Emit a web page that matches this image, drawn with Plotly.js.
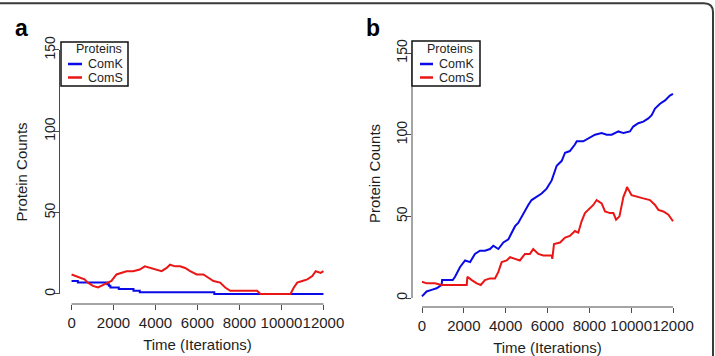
<!DOCTYPE html>
<html>
<head>
<meta charset="utf-8">
<script src="https://cdn.plot.ly/plotly-3.0.1.min.js"></script>
<style>
  html, body { margin: 0; padding: 0; background: #ffffff; }
  #chart { width: 715px; height: 356px; }
</style>
</head>
<body>
<div id="chart"></div>
<script>
// Series names and tick labels
const seriesNames = ['ComK', 'ComS'];
const legendTitle = 'Proteins';
const panelLabels = ['a', 'b'];
const xTicks = [0, 2000, 4000, 6000, 8000, 10000, 12000];
const yTicks = [0, 50, 100, 150];

// Panel a: ComK protein count (step changes) and ComS protein count
const timeA_comK = [0, 300, 1700, 1780, 1850, 2250, 2950, 3250, 6800, 12000];
const comK_A     = [8, 7, 6, 5, 4, 3, 2, 1, 0, 0];
const timeA_comS = [0, 220, 420, 620, 780, 1020, 1260, 1420, 1660, 1900, 2140, 2380, 2620, 2930, 3250, 3490, 3730, 4050, 4290, 4530, 4690, 4930, 5170, 5410, 5650, 5960, 6280, 6520, 6760, 7080, 7320, 7560, 8840, 9000, 10430, 10590, 10750, 10990, 11230, 11470, 11630, 11870, 12000];
const comS_A     = [12, 11, 10, 9, 7, 5, 4, 5, 7, 8, 12, 13, 14, 14, 15, 17, 16, 15, 14, 16, 18, 17, 17, 16, 14, 12, 12, 10, 8, 7, 4, 2, 2, 0, 0, 4, 7, 8, 9, 11, 14, 13, 14];

// Panel b
const timeB_comK = [0, 220, 460, 700, 940, 960, 1470, 1580, 1820, 2060, 2300, 2530, 2770, 3010, 3250, 3410, 3650, 3890, 4130, 4290, 4450, 4600, 4770, 4920, 5080, 5240, 5480, 5720, 5960, 6200, 6440, 6680, 6840, 7070, 7310, 7400, 7710, 8030, 8270, 8590, 8830, 9070, 9390, 9630, 9940, 10100, 10340, 10580, 10820, 10980, 11140, 11380, 11620, 11850, 12000];
const comK_B     = [1, 4, 5, 6, 8, 11, 11, 13, 19, 23, 22, 27, 29, 29, 30, 32, 30, 34, 36, 40, 44, 46, 50, 54, 57, 60, 62, 64, 67, 72, 81, 84, 89, 90, 94, 96, 96, 98, 100, 101, 100, 100, 102, 101, 102, 105, 107, 108, 110, 112, 116, 119, 121, 124, 125];
const timeB_comS = [0, 220, 620, 940, 2140, 2170, 2380, 2620, 2810, 3010, 3250, 3490, 3650, 3810, 4050, 4210, 4450, 4680, 4920, 5160, 5320, 5560, 5800, 6200, 6230, 6310, 6600, 6840, 7070, 7310, 7470, 7630, 7790, 8030, 8190, 8350, 8590, 8750, 8990, 9150, 9280, 9440, 9630, 9760, 9800, 10020, 10260, 10580, 10900, 11140, 11300, 11540, 11780, 12000];
const comS_B     = [10, 9, 9, 8, 8, 13, 11, 9, 8, 11, 12, 12, 16, 22, 23, 25, 24, 23, 27, 27, 30, 27, 26, 26, 24, 33, 34, 37, 38, 41, 40, 47, 52, 55, 57, 60, 58, 53, 52, 52, 48, 50, 62, 66, 68, 63, 62, 61, 60, 57, 54, 53, 51, 47];

const W = 715, H = 356;
const FONT = '"Liberation Sans", Arial, Helvetica, sans-serif';
const BLUE = '#0a0ae6';
const RED = '#ea1515';
const AXIS = '#4a4a4a';
const TEXT = '#1e1e1e';
const colors = [BLUE, RED];

// pixel -> paper helpers
const fx = px => px / W;
const fy = py => 1 - py / H;

const traces = [
  { x: timeA_comK, y: comK_A, xaxis: 'x', yaxis: 'y', name: seriesNames[0],
    mode: 'lines', line: { color: BLUE, width: 2, shape: 'hv' } },
  { x: timeA_comS, y: comS_A, xaxis: 'x', yaxis: 'y', name: seriesNames[1],
    mode: 'lines', line: { color: RED, width: 2 } },
  { x: timeB_comK, y: comK_B, xaxis: 'x2', yaxis: 'y2', name: seriesNames[0],
    mode: 'lines', line: { color: BLUE, width: 2 } },
  { x: timeB_comS, y: comS_B, xaxis: 'x2', yaxis: 'y2', name: seriesNames[1],
    mode: 'lines', line: { color: RED, width: 2 } }
];

function xAxis(domain, range, anchor) {
  return {
    domain: domain, range: range, anchor: anchor,
    showgrid: false, zeroline: false, showline: false,
    tickmode: 'array', tickvals: xTicks, ticktext: xTicks.map(String),
    tickangle: 0,
    ticks: 'outside', ticklen: 5, tickwidth: 1, tickcolor: AXIS,
    ticklabelstandoff: 1.5,
    tickfont: { family: FONT, size: 15, color: TEXT },
    title: { text: 'Time (Iterations)', font: { family: FONT, size: 15, color: TEXT }, standoff: 9 }
  };
}
function yAxis(domain, range, anchor) {
  return {
    domain: domain, range: range, anchor: anchor,
    showgrid: false, zeroline: false, showline: false,
    tickmode: 'array', tickvals: yTicks, ticktext: yTicks.map(String),
    tickangle: -90,
    ticks: 'outside', ticklen: 5, tickwidth: 1, tickcolor: AXIS,
    ticklabelstandoff: -7,
    tickfont: { family: FONT, size: 14, color: TEXT },
    title: { text: 'Protein Counts', font: { family: FONT, size: 15, color: TEXT }, standoff: 10 }
  };
}

const layout = {
  width: W, height: H,
  margin: { l: 0, r: 0, t: 0, b: 0 },
  paper_bgcolor: '#ffffff', plot_bgcolor: 'rgba(0,0,0,0)',
  showlegend: false,
  xaxis:  xAxis([fx(59.5), fx(335.5)], [-574, 12574], 'y'),
  yaxis:  yAxis([fy(304), fy(40)], [-6.15, 156.1], 'x'),
  xaxis2: xAxis([fx(412), fx(683)], [-478, 12478], 'y2'),
  yaxis2: yAxis([fy(307), fy(40)], [-5.5, 158], 'x2'),
  shapes: [], annotations: []
};

// R-style axis lines spanning first to last tick
[['x', 'y'], ['x2', 'y2']].forEach(([xa, ya]) => {
  layout.shapes.push({ type: 'line', xref: xa, yref: ya + ' domain', x0: xTicks[0], x1: xTicks[xTicks.length - 1], y0: 0, y1: 0,
    line: { color: AXIS, width: 1 } });
  layout.shapes.push({ type: 'line', xref: xa + ' domain', yref: ya, x0: 0, x1: 0, y0: yTicks[0], y1: yTicks[yTicks.length - 1],
    line: { color: AXIS, width: 1 } });
});

// Legend boxes (one per panel), drawn in pixel positions
const legends = [
  { box: [61, 42, 128, 86], sample: [68, 82], text: 87, title: 99 },
  { box: [412, 41, 480, 86], sample: [420, 433], text: 438, title: 450 }
];
const rowY = [64, 77.5];
legends.forEach(lg => {
  const [x0, y0, x1, y1] = lg.box;
  layout.shapes.push({ type: 'rect', xref: 'paper', yref: 'paper', x0: fx(x0), x1: fx(x1), y0: fy(y1), y1: fy(y0),
    line: { color: '#111111', width: 1.5 }, fillcolor: '#ffffff', layer: 'above' });
  layout.annotations.push({ xref: 'paper', yref: 'paper', x: fx(lg.title), y: fy(48.5), text: legendTitle,
    showarrow: false, xanchor: 'center', yanchor: 'middle', borderpad: 0, font: { family: FONT, size: 12.5, color: TEXT } });
  seriesNames.forEach((nm, i) => {
    layout.shapes.push({ type: 'line', xref: 'paper', yref: 'paper', x0: fx(lg.sample[0]), x1: fx(lg.sample[1]),
      y0: fy(rowY[i]), y1: fy(rowY[i]), line: { color: colors[i], width: 2.5 }, layer: 'above' });
    layout.annotations.push({ xref: 'paper', yref: 'paper', x: fx(lg.text), y: fy(rowY[i]), text: nm,
      showarrow: false, xanchor: 'left', yanchor: 'middle', borderpad: 0, font: { family: FONT, size: 12.5, color: TEXT } });
  });
});

// Panel letters
layout.annotations.push({ xref: 'paper', yref: 'paper', x: fx(21.5), y: fy(28), text: '<b>' + panelLabels[0] + '</b>',
  showarrow: false, xanchor: 'center', yanchor: 'middle', font: { family: FONT, size: 23, color: '#000000' } });
layout.annotations.push({ xref: 'paper', yref: 'paper', x: fx(373), y: fy(28), text: '<b>' + panelLabels[1] + '</b>',
  showarrow: false, xanchor: 'center', yanchor: 'middle', font: { family: FONT, size: 23, color: '#000000' } });

// Outer frame: top edge and right edge with a rounded corner
layout.shapes.push({ type: 'path', xref: 'paper', yref: 'paper',
  path: 'M 0 ' + fy(3.2) + ' L ' + fx(704) + ' ' + fy(3.2) + ' Q ' + fx(713) + ' ' + fy(3.2) + ' ' + fx(713) + ' ' + fy(12.2) +
        ' L ' + fx(713) + ' ' + fy(356),
  line: { color: '#3a3a3a', width: 2 } });

Plotly.newPlot('chart', traces, layout, { staticPlot: true, displayModeBar: false });
</script>
</body>
</html>
